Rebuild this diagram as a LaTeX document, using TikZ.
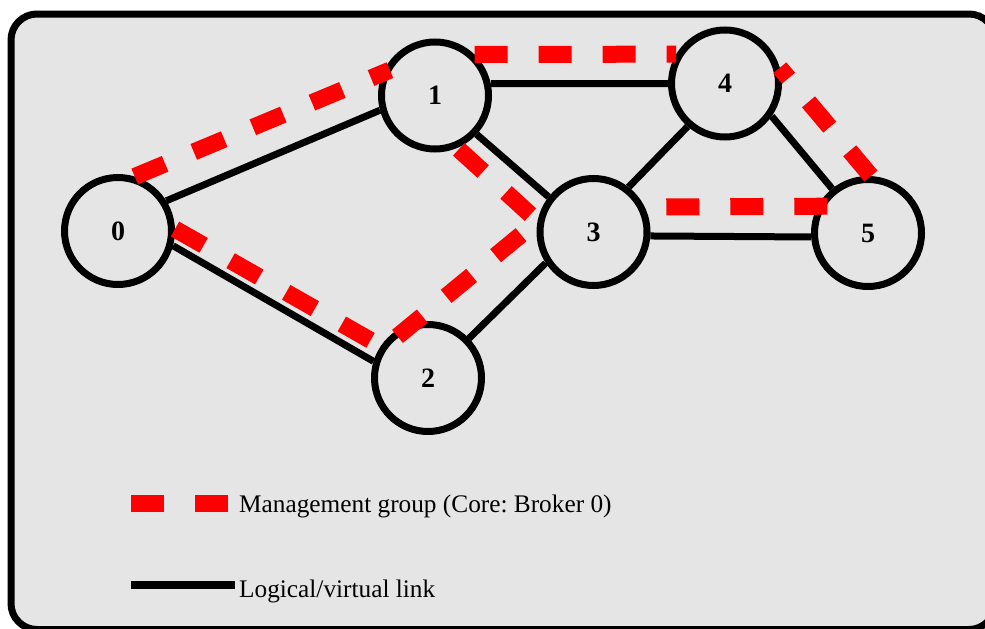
\documentclass[tikz,border=0pt]{standalone}
\usepackage{fontspec}
\setmainfont{Liberation Serif}
\usetikzlibrary{calc}
\definecolor{panelgray}{RGB}{229,229,229}
\definecolor{mgred}{RGB}{255,0,0}
\frenchspacing
\begin{document}
\begin{tikzpicture}[x=1pt,y=-1pt,
  panelframe/.style={draw=black, line width=7pt, fill=panelgray, rounded corners=26pt},
  broker/.style={circle, draw=black, line width=7pt, fill=panelgray, minimum size=107pt,
    inner sep=0pt, outer sep=3.5pt, font=\fontsize{28}{28}\selectfont\bfseries},
  link/.style={draw=black, line width=7pt},
  mgmt/.style={draw=mgred, line width=17pt, dash pattern=on 33pt off 31pt},
  legendtext/.style={anchor=base west, inner sep=0pt, font=\fontsize{25.3}{28}\selectfont}]
\useasboundingbox (0,0) rectangle (985,629);
\clip (0,0) rectangle (985,629);
\draw[panelframe] (11,14) rectangle (995,629.5);

% brokers
\node[broker] (n0) at (118,231) {0};
\node[broker] (n1) at (435,95.5) {1};
\node[broker] (n2) at (428,378) {2};
\node[broker] (n3) at (593.5,232) {3};
\node[broker] (n4) at (725,83.5) {4};
\node[broker] (n5) at (868,233) {5};

% logical / virtual links
\draw[link] (n0.32) -- (n1.195);
\draw[link] (n1.12) -- (n4.180);
\draw[link] (n1.-43) -- (n3.142.5);
\draw[link] (n3.52.7) -- (n4.229.6);
\draw[link] (n4.-35.4) -- (n5.129.3);
\draw[link] (n3.-4) -- (n5.184);
\draw[link] (n0.-15) -- (n2.163);
\draw[link] (n2.44) -- (n3.213.5);

% management group
\coordinate (m2) at ($(n2.center)+(-30.5,-41.6)$);
\draw[mgmt, shorten >=-8pt] (n0.73) -- (n1.157);
\draw[mgmt] (n1.46.3) -- (n4.149.2);
\draw[mgmt] (n5.87) -- (n4.16.5);
\draw[mgmt, shorten <=-9.6pt] (n5.152.5) -- (n3.26.35);
\draw[mgmt, dash phase=62pt] (n1.-67.6) -- (n3.169.3) -- (m2);
\draw[mgmt] (n0.2.6) -- (n2.146);

% legend
\coordinate (lga) at (131,503);
\coordinate (lgb) at (230,503);
\coordinate (lgc) at (131,585);
\coordinate (lgd) at (235,585);
\draw[mgmt] (lga) -- (lgb);
\draw[draw=black, line width=8pt] (lgc) -- (lgd);
\node[legendtext] (t1) at (239,512) {Management group (Core: Broker 0)};
\node[legendtext] (t2) at (239,597) {Logical/virtual link};
\end{tikzpicture}
\end{document}
